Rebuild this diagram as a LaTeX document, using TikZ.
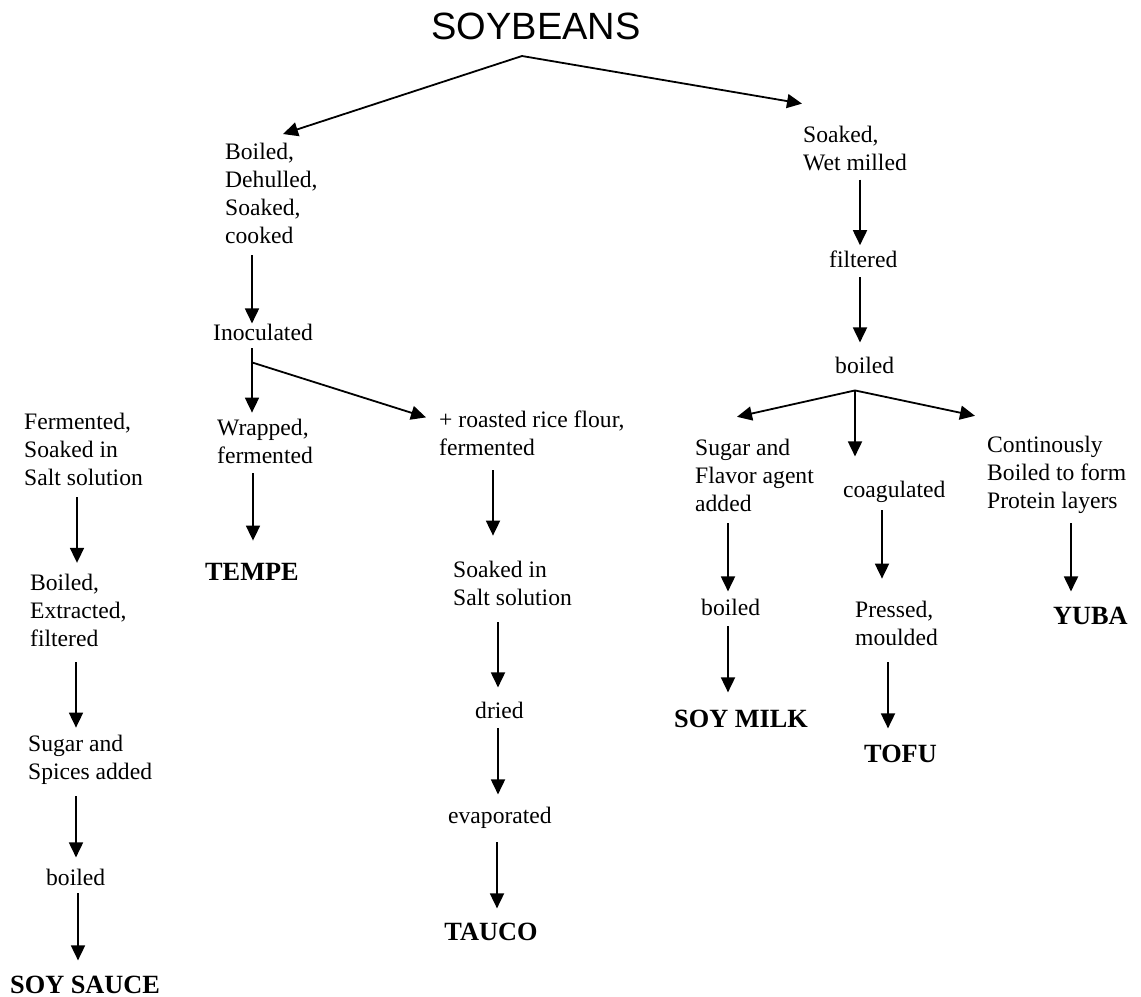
\documentclass[tikz,border=0pt]{standalone}
\usepackage{fontspec}
\setmainfont{Liberation Serif}
\newfontfamily\headfont{Liberation Sans}
\usetikzlibrary{arrows.meta,calc}

% multi-line labels are placed by the baseline of their last line
\tikzset{
  lbl/.style={font=\fontsize{23.6bp}{27.8bp}\selectfont, align=left,
              inner sep=0pt, anchor=base west},
  prod/.style={font=\fontsize{26.3bp}{30bp}\selectfont\bfseries,
               inner sep=0pt, anchor=base west},
  flow/.style={line width=1.8bp, -{Triangle[length=15bp,width=14bp]}},
}

\begin{document}
\begin{tikzpicture}[x=1bp, y=-1bp]
\useasboundingbox (0,0) rectangle (1141,997);

% root
\node[inner sep=0pt, anchor=base, font=\fontsize{38bp}{40bp}\headfont]
  (soy) at (536,39) {SOYBEANS};

% tempe / tauco branch
\node[lbl] (b1)    at (225,243) {Boiled,\\Dehulled,\\Soaked,\\cooked};
\node[lbl] (inoc)  at (213,340) {Inoculated};
\node[lbl] (wrap)  at (217,463) {Wrapped,\\fermented};
\node[prod] (tempe) at (205,580) {TEMPE};
\node[lbl] (rice)  at (439,455) {+ roasted rice flour,\\fermented};
\node[lbl] (soak2) at (453,605) {Soaked in\\Salt solution};
\node[lbl] (dried) at (475,718) {dried};
\node[lbl] (evap)  at (448,823) {evaporated};
\node[prod, anchor=base] (tauco) at (491,940) {TAUCO};

% soy sauce column
\node[lbl] (ferm)  at (24,485) {Fermented,\\Soaked in\\Salt solution};
\node[lbl] (ext)   at (30,646) {Boiled,\\Extracted,\\filtered};
\node[lbl] (sug)   at (28,779) {Sugar and\\Spices added};
\node[lbl] (boil3) at (46,885) {boiled};
\node[prod] (sauce) at (10,993) {SOY SAUCE};

% wet-milled branch
\node[lbl] (wet)   at (803,170) {Soaked,\\Wet milled};
\node[lbl] (filt)  at (829,267) {filtered};
\node[lbl] (boil2) at (835,373) {boiled};
\node[lbl] (sfa)   at (695,511) {Sugar and\\Flavor agent\\added};
\node[lbl] (coag)  at (843,497) {coagulated};
\node[lbl] (cont)  at (987,508) {Continously\\Boiled to form\\Protein layers};
\node[lbl] (boil4) at (701,615) {boiled};
\node[lbl] (press) at (855,645) {Pressed,\\moulded};
\node[prod] (milk) at (674,727) {SOY MILK};
\node[prod] (tofu) at (864,762) {TOFU};
\node[prod] (yuba) at (1053,624) {YUBA};

% junction points
\coordinate (fork)  at ([shift={(-14,17)}]soy.base);
\coordinate (split) at ($(inoc.south -| 252,0)+(0,22)$);
\coordinate (br)    at ($(boil2.south -| 855,0)+(0,17)$);

% first split
\draw[flow] (fork) -- ([shift={(58,-9)}]b1.north west);
\draw[flow] (fork) -- ([shift={(-1,-22)}]wet.north west);

% tempe / tauco
\draw[flow, shorten <=12bp, shorten >=0bp]  (b1.south -| 252,0)   -- (inoc.north -| 252,0);
\draw[flow, shorten <=8bp,  shorten >=6bp]  (inoc.south -| 252,0) -- (wrap.north -| 252,0);
\draw[flow] (split) -- ([shift={(-13,7)}]rice.north west);
\draw[flow, shorten <=10bp, shorten >=22bp] (wrap.south -| 253,0) -- (tempe.north -| 253,0);
\draw[flow, shorten <=15bp, shorten >=25bp] (rice.south -| 493,0) -- (soak2.north -| 493,0);
\draw[flow, shorten <=17bp, shorten >=14bp] (soak2.south -| 498,0) -- (dried.north -| 498,0);
\draw[flow, shorten <=10bp, shorten >=12bp] (dried.south -| 498,0) -- (evap.north -| 498,0);
\draw[flow, shorten <=14bp, shorten >=14bp] (evap.south -| 497,0) -- (tauco.north -| 497,0);

% soy sauce
\draw[flow, shorten <=12bp, shorten >=11bp] (ferm.south -| 77,0)  -- (ext.north -| 77,0);
\draw[flow, shorten <=16bp, shorten >=7bp]  (ext.south -| 76,0)   -- (sug.north -| 76,0);
\draw[flow, shorten <=12bp, shorten >=11bp] (sug.south -| 76,0)   -- (boil3.north -| 76,0);
\draw[flow, shorten <=8bp,  shorten >=15bp] (boil3.south -| 78,0) -- (sauce.north -| 78,0);

% wet-milled
\draw[flow, shorten <=9bp,  shorten >=5bp]  (wet.south -| 860,0)  -- (filt.north -| 860,0);
\draw[flow, shorten <=10bp, shorten >=14bp] (filt.south -| 860,0) -- (boil2.north -| 860,0);
\draw[flow] (br) -- ([shift={(42,-22)}]sfa.north west);
\draw[flow, shorten >=24bp] (br) -- (coag.north -| br);
\draw[flow] (br) -- ([shift={(-12,-20)}]cont.north west);
\draw[flow, shorten <=12bp, shorten >=7bp]  (sfa.south -| 728,0)   -- (boil4.north -| 728,0);
\draw[flow, shorten <=11bp, shorten >=17bp] (boil4.south -| 728,0) -- (milk.north -| 728,0);
\draw[flow, shorten <=8bp,  shorten >=22bp] (coag.south -| 882,0)  -- (press.north -| 882,0);
\draw[flow, shorten <=17bp, shorten >=16bp] (press.south -| 888,0) -- (tofu.north -| 888,0);
\draw[flow, shorten <=10bp, shorten >=15bp] (cont.south -| 1071,0) -- (yuba.north -| 1071,0);
\end{tikzpicture}
\end{document}
